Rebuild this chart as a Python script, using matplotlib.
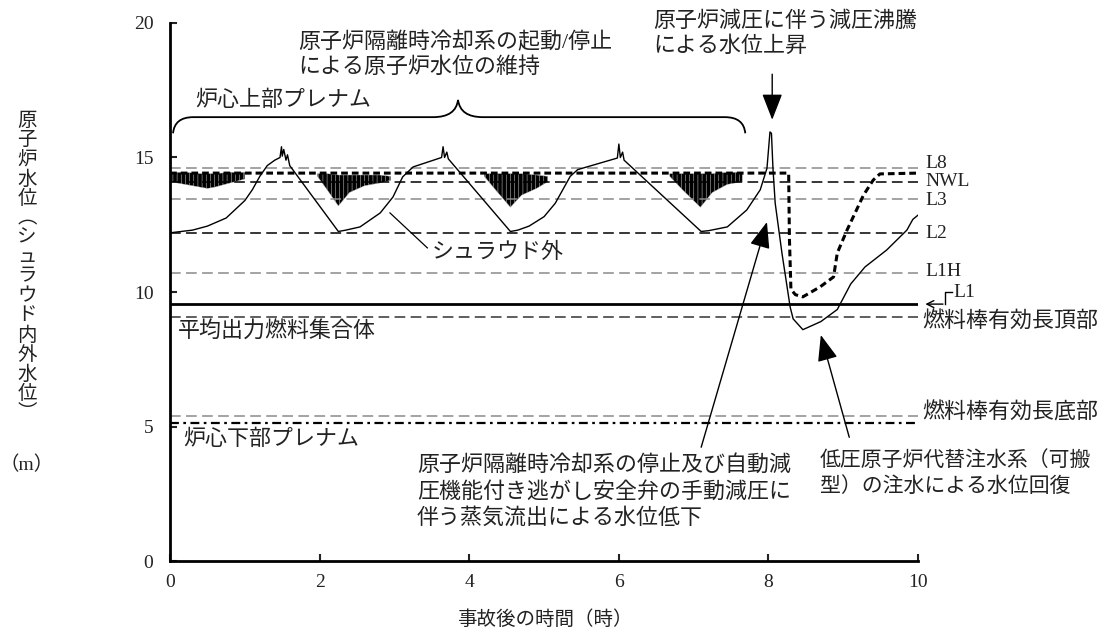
import matplotlib.pyplot as plt
from matplotlib.path import Path
from matplotlib.patches import PathPatch

plt.rcParams['font.family'] = ['Liberation Serif', 'Noto Sans CJK JP']
plt.rcParams['hatch.linewidth'] = 0.4

# shroud outside water level (thin line)
t_out = [0.0, 0.3, 0.5, 0.75, 1.0, 1.1, 1.2, 1.3, 1.4, 1.47, 1.49, 1.5, 1.52, 1.55, 1.57, 1.6,
         2.25, 2.35, 2.54, 2.81, 2.98, 3.11, 3.25, 3.63, 3.65, 3.67, 3.7, 3.72,
         4.55, 4.65, 4.8, 5.0, 5.15, 5.25, 5.35, 5.45, 5.98, 6.0, 6.02, 6.05, 6.07,
         7.1, 7.2, 7.45, 7.71, 7.89, 7.98, 8.02, 8.04, 8.06, 8.09, 8.18, 8.29, 8.33,
         8.46, 8.7, 8.92, 9.1, 9.29, 9.58, 9.85, 9.93, 10.0]
lvl_out = [12.2, 12.3, 12.45, 12.75, 13.4, 13.8, 14.3, 14.7, 14.9, 15.0, 15.4, 15.05, 15.3, 14.9, 15.1, 14.7,
           12.25, 12.3, 12.42, 12.94, 13.53, 14.28, 14.65, 15.0, 15.4, 15.0, 15.2, 14.95,
           12.25, 12.3, 12.45, 12.8, 13.3, 13.8, 14.3, 14.55, 14.98, 15.5, 15.0, 15.2, 14.9,
           12.25, 12.28, 12.42, 13.05, 13.8, 14.6, 15.95, 15.9, 14.6, 13.3, 11.45, 9.44, 9.0,
           8.6, 8.9, 9.35, 10.3, 10.93, 11.56, 12.3, 12.7, 12.86]

# shroud inside water level (thick dashed)
t_in = [0.0, 8.27, 8.28, 8.3, 8.36, 8.46, 8.69, 8.87, 8.92, 9.05, 9.27, 9.4, 9.49, 10.0]
lvl_in = [14.42, 14.42, 12.0, 10.1, 9.9, 9.82, 10.19, 10.56, 11.45, 12.3, 13.6, 14.16, 14.39, 14.42]

# noisy region (two-phase level) envelopes for each RCIC cycle
band_t = [[0.0, 0.2, 0.4, 0.5, 0.6, 0.8, 1.0],
          [1.97, 2.1, 2.25, 2.4, 2.6, 2.8, 2.95],
          [4.2, 4.35, 4.55, 4.7, 4.9, 5.05],
          [6.68, 6.85, 7.09, 7.25, 7.45, 7.65]]
band_top = [[14.45, 14.45, 14.4, 14.4, 14.4, 14.45, 14.45],
            [14.4, 14.4, 14.35, 14.35, 14.35, 14.35, 14.3],
            [14.4, 14.4, 14.4, 14.4, 14.35, 14.3],
            [14.4, 14.4, 14.4, 14.4, 14.45, 14.45]]
band_bot = [[14.1, 14.0, 13.9, 13.85, 13.9, 14.05, 14.2],
            [14.3, 13.8, 13.2, 13.7, 13.95, 14.05, 14.15],
            [14.3, 13.8, 13.15, 13.6, 13.85, 14.1],
            [14.3, 13.8, 13.15, 13.7, 14.0, 14.1]]

# reference levels
level_names = ['L8', 'NWL', 'L3', 'L2', 'L1H']
level_values = [14.6, 14.1, 13.45, 12.2, 10.7]
level_colors = ['#8a8a8a', 'black', '#8a8a8a', 'black', '#8a8a8a']
level_label_y = [14.78, 14.12, 13.4, 12.16, 10.78]
L1 = 9.55
fuel_top = 9.07
fuel_bottom = 5.38
lower_plenum = 5.13

fig = plt.figure(figsize=(11.02, 6.37), dpi=100)
ax = fig.add_axes([0.1543, 0.1193, 0.6788, 0.8446])
ax.set_xlim(0, 10)
ax.set_ylim(0, 20)

for v, c in zip(level_values, level_colors):
    ax.plot([0, 10], [v, v], color=c, lw=1.1, dashes=(7, 3.5))
ax.plot([0, 10], [fuel_top, fuel_top], color='#333333', lw=1.1, dashes=(7, 3.5))
ax.plot([0, 10], [fuel_bottom, fuel_bottom], color='#8a8a8a', lw=1.1, dashes=(7, 3.5))
ax.plot([0, 10], [lower_plenum, lower_plenum], color='black', lw=1.6, dashes=(4, 2, 1.2, 2))
ax.plot([0, 10], [L1, L1], color='black', lw=2)

for bt, top, bot in zip(band_t, band_top, band_bot):
    ax.fill_between(bt, bot, top, facecolor='black', edgecolor='#bbbbbb', hatch='||||', lw=0.3)

ax.plot(t_out, lvl_out, color='black', lw=1.0)
ax.plot(t_in, lvl_in, color='black', lw=2.2, dashes=(2.2, 1.3))

ax.spines['top'].set_visible(False)
ax.spines['right'].set_visible(False)
for s in ['left', 'bottom']:
    ax.spines[s].set_linewidth(2)
ax.set_xticks([0, 2, 4, 6, 8, 10])
ax.set_yticks([0, 5, 10, 15, 20])
ax.tick_params(axis='both', direction='in', length=5, width=1.5, labelsize=14, colors='#222222')
ax.tick_params(axis='y', pad=12)
ax.tick_params(axis='x', pad=9)

tc = '#222222'
fs = 15.8
for name, y in zip(level_names, level_label_y):
    ax.text(10.1, y, name, fontsize=14, va='center', ha='left', color=tc, clip_on=False)
ax.text(10.47, 10.0, 'L1', fontsize=14, va='center', ha='left', color=tc)
ax.annotate('', xy=(10.06, L1), xytext=(10.37, L1), annotation_clip=False,
            arrowprops=dict(arrowstyle='->,head_length=0.5,head_width=0.25', lw=1.0, color='black'))
ax.plot([10.36, 10.36, 10.46], [L1, 10.0, 10.0], color='black', lw=1.0, clip_on=False)
ax.text(10.06, 8.88, '燃料棒有効長頂部', fontsize=fs, va='center', ha='left', color=tc)
ax.text(10.05, 5.5, '燃料棒有効長底部', fontsize=fs, va='center', ha='left', color=tc)
ax.text(0.1, 8.5, '平均出力燃料集合体', fontsize=fs, va='center', ha='left', color=tc)
ax.text(0.17, 4.5, '炉心下部プレナム', fontsize=fs, va='center', ha='left', color=tc)
ax.text(0.33, 17.1, '炉心上部プレナム', fontsize=fs, va='center', ha='left', color=tc)
ax.text(1.71, 19.26, '原子炉隔離時冷却系の起動/停止', fontsize=fs, va='center', ha='left', color=tc)
ax.text(1.71, 18.33, 'による原子炉水位の維持', fontsize=fs, va='center', ha='left', color=tc)
ax.text(6.46, 20.05, '原子炉減圧に伴う減圧沸騰', fontsize=fs, va='center', ha='left', color=tc)
ax.text(6.46, 19.12, 'による水位上昇', fontsize=fs, va='center', ha='left', color=tc)
ax.text(3.5, 11.45, 'シュラウド外', fontsize=fs, va='center', ha='left', color=tc)
ax.plot([2.94, 3.44], [12.94, 11.64], color='black', lw=0.9)
bottom_lines = ['原子炉隔離時冷却系の停止及び自動減',
                '圧機能付き逃がし安全弁の手動減圧に',
                '伴う蒸気流出による水位低下']
for line, y in zip(bottom_lines, [3.57, 2.57, 1.6]):
    ax.text(3.3, y, line, fontsize=fs, va='center', ha='left', color=tc)
ax.text(8.69, 3.72, '低圧原子炉代替注水系（可搬', fontsize=15, va='center', ha='left', color=tc)
ax.text(8.69, 2.75, '型）の注水による水位回復', fontsize=15, va='center', ha='left', color=tc)

head = '-|>,head_length=0.9,head_width=0.35'
ax.annotate('', xy=(8.05, 16.3), xytext=(8.05, 18.2),
            arrowprops=dict(arrowstyle=head, color='black', lw=1.0, mutation_scale=18))
ax.annotate('', xy=(7.99, 12.7), xytext=(7.09, 4.13),
            arrowprops=dict(arrowstyle=head, color='black', lw=1.0, mutation_scale=18))
ax.annotate('', xy=(8.69, 8.5), xytext=(9.09, 4.5),
            arrowprops=dict(arrowstyle=head, color='black', lw=1.0, mutation_scale=18))

# curly brace over the upper plenum region
verts = [(0.04, 15.9), (0.06, 16.5), (0.31, 16.5),
         (3.52, 16.5),
         (3.82, 16.5), (3.85, 17.14),
         (3.88, 16.5), (4.18, 16.5),
         (7.42, 16.5),
         (7.67, 16.5), (7.69, 15.9)]
codes = [Path.MOVETO, Path.CURVE3, Path.CURVE3, Path.LINETO,
         Path.CURVE3, Path.CURVE3, Path.CURVE3, Path.CURVE3,
         Path.LINETO, Path.CURVE3, Path.CURVE3]
ax.add_patch(PathPatch(Path(verts, codes), fill=False, lw=1.3, color='black'))

# vertical y label, one glyph per row
ylabel = '原子炉水位︵シュラウド内外水位︶'
for i, ch in enumerate(ylabel):
    fig.text(27 / 1102, 1 - (121 + i * 19.5) / 637, ch, fontsize=14, ha='center', va='center', color=tc)
fig.text(27 / 1102, 1 - 465 / 637, '（m）', fontsize=14, ha='center', va='center', color=tc)
fig.text(545 / 1102, 1 - 620 / 637, '事故後の時間（時）', fontsize=14, ha='center', va='center', color=tc)

fig.savefig('out.png', dpi=100)
